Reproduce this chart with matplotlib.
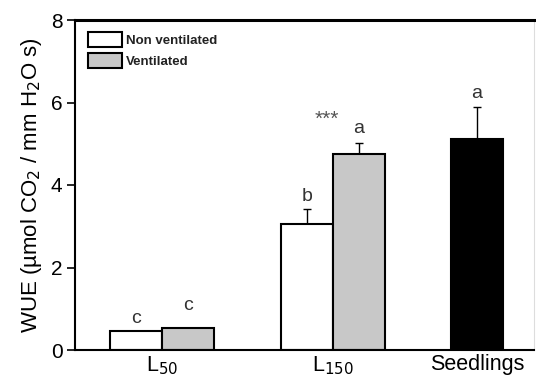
import matplotlib
matplotlib.use("Agg")
import matplotlib.pyplot as plt
import numpy as np

plt.rcParams['font.family'] = ['Liberation Sans', 'DejaVu Sans']

categories = ["L$_{50}$", "L$_{150}$", "Seedlings"]
nonvent = [0.46, 3.05]
nonvent_err = [0.0, 0.37]
vent = [0.54, 4.75]
vent_err = [0.0, 0.28]
seedlings = [5.11]
seedlings_err = [0.79]
letters_nonvent = ["c", "b"]
letters_vent = ["c", "a"]
letters_seed = ["a"]
letter_y_nonvent = [0.65, 3.61]
letter_y_vent = [0.97, 5.26]
letter_y_seed = [6.10]

group_pos = np.array([0.0, 1.0, 1.842])
w = 0.304

fig = plt.figure(figsize=(5.36, 3.8), dpi=100)
ax = fig.add_axes([75/536, 1-350/380, (534-75)/536, 330/380])

ekw = dict(elinewidth=1.0, capsize=3, capthick=1.0, ecolor='black')
b1 = ax.bar(group_pos[:2] - w/2, nonvent, w, color='white', edgecolor='black', linewidth=1.5,
            label='Non ventilated', zorder=2)
ax.errorbar(group_pos[:2] - w/2, nonvent, yerr=[np.zeros(2), nonvent_err], fmt='none', zorder=1, **ekw)
b2 = ax.bar(group_pos[:2] + w/2, vent, w, color='#c8c8c8', edgecolor='black', linewidth=1.5,
            label='Ventilated', zorder=2)
ax.errorbar(group_pos[:2] + w/2, vent, yerr=[np.zeros(2), vent_err], fmt='none', zorder=1, **ekw)
ax.bar(group_pos[2:], seedlings, w, color='black', edgecolor='black', linewidth=1.5, zorder=2)
ax.errorbar(group_pos[2:], seedlings, yerr=[np.zeros(1), seedlings_err], fmt='none', zorder=1, **ekw)

tcol = '#333333'
for x, y, t in zip(group_pos[:2] - w/2, letter_y_nonvent, letters_nonvent):
    ax.text(x, y, t, ha='center', va='baseline', fontsize=14, color=tcol)
for x, y, t in zip(group_pos[:2] + w/2, letter_y_vent, letters_vent):
    ax.text(x, y, t, ha='center', va='baseline', fontsize=14, color=tcol)
for x, y, t in zip(group_pos[2:], letter_y_seed, letters_seed):
    ax.text(x, y, t, ha='center', va='baseline', fontsize=14, color=tcol)
ax.text(0.965, 5.58, "***", ha='center', va='center', fontsize=15, color='#555555')

ax.set_xlim(-0.509, 2.175)
ax.set_ylim(0, 8)
ax.set_yticks([0, 2, 4, 6, 8])
ax.set_xticks(group_pos)
ax.set_xticklabels(categories, fontsize=15.5)
ax.tick_params(axis='x', length=0, pad=3)
ax.tick_params(axis='y', labelsize=15, length=6, width=1.2, direction='out', pad=3)
ax.set_ylabel("WUE (µmol CO$_2$ / mm H$_2$O s)", fontsize=16, labelpad=5)

for s in ['left', 'bottom']:
    ax.spines[s].set_linewidth(1.5)
ax.spines['top'].set_linewidth(2.2)
ax.spines['right'].set_linewidth(0.8)
ax.spines['right'].set_color('#dddddd')

leg = ax.legend(handles=[b1, b2], loc='upper left', fontsize=9.5, frameon=False,
                handlelength=2.6, handleheight=1.35, handletextpad=0.3,
                borderaxespad=0.5, labelspacing=0.5, bbox_to_anchor=(0.002, 1.0))
for t in leg.get_texts():
    t.set_fontweight('bold')
    t.set_color('#222222')

fig.savefig("out.png", dpi=100)
